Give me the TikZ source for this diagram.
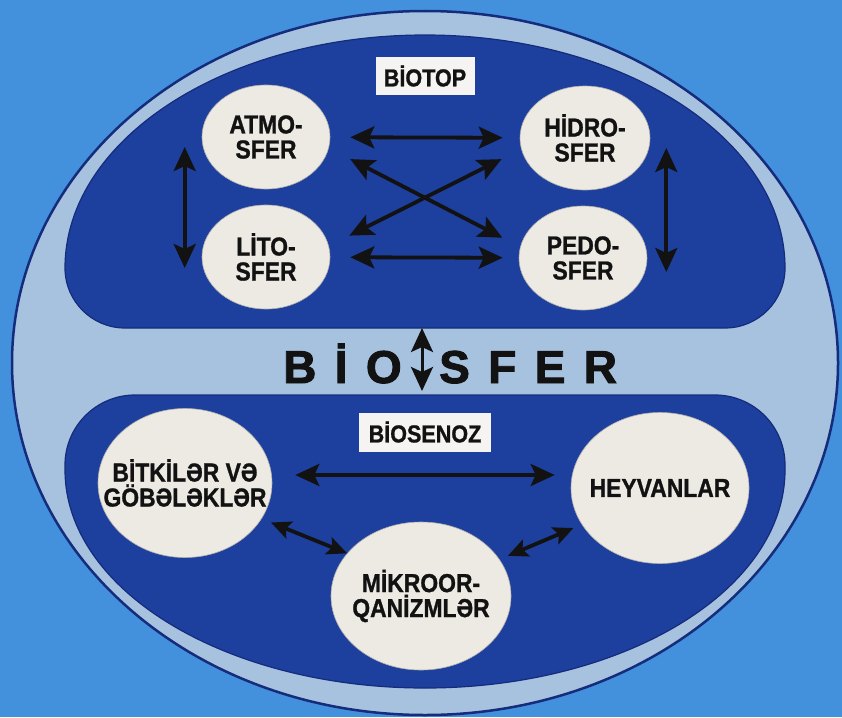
\documentclass[tikz,border=0pt]{standalone}
\usepackage{fontspec}
\setmainfont{Liberation Sans}
\newfontfamily\condfont[FakeStretch=0.88, FakeBold=1]{Liberation Sans}
\usepackage{tikz}
\usetikzlibrary{
  arrows.meta,
  shapes.geometric
}
\definecolor{bsBack}{HTML}{4390DC}
\definecolor{bsRing}{HTML}{A6C2DE}
\definecolor{bsDeep}{HTML}{1D3F9E}
\definecolor{bsEdge}{HTML}{152C7C}
\definecolor{bsOrb}{HTML}{EDEAE4}
\definecolor{bsInk}{HTML}{121212}
\newcommand{\nowide}[1]{\makebox[0pt]{#1}}
\tikzset{
  orb/.style={
    ellipse, fill=bsOrb, draw=bsOrb!75!black, line width=0.6pt, inner sep=0pt,
    minimum width=128pt, minimum height=104pt, align=center, text=bsInk,
    font=\condfont\fontsize{26}{25}\selectfont\bfseries
  },
  tagbox/.style={fill=bsOrb!50!white, inner sep=0pt, text=bsInk, font=\condfont\fontsize{24.5}{25}\selectfont\bfseries},
  region/.style={fill=bsDeep, draw=bsEdge, line width=1.2pt},
  twoway/.style={{Stealth[length=24pt,width=22pt,inset=5pt]}-{Stealth[length=24pt,width=22pt,inset=5pt]}, line width=3.8pt, bsInk},
  shortway/.style={{Stealth[length=20pt,width=18pt,inset=4pt]}-{Stealth[length=20pt,width=18pt,inset=4pt]}, line width=3.8pt, bsInk},
  bigword/.style={inner sep=0pt, anchor=base west, text=bsInk,
    font=\fontsize{46}{50}\selectfont\bfseries\addfontfeatures{LetterSpace=40, FakeBold=2}}
}
\begin{document}
\begin{tikzpicture}[x=1pt, y=-1pt]
  \fill[bsBack] (0,0) rectangle (842,717);
  \useasboundingbox (0,0) rectangle (842,717);
  \draw[fill=bsRing, draw=bsEdge, line width=2.5pt] (425,363) ellipse [x radius=413, y radius=352];
  \draw[region] (65,268) arc[start angle=180, end angle=360, x radius=360, y radius=233]
    arc[start angle=0, end angle=90, radius=60] -- (125,328)
    arc[start angle=90, end angle=180, radius=60] -- cycle;
  \draw[region] (65,470) -- (65,465) arc[start angle=180, end angle=270, radius=70] -- (715,395)
    arc[start angle=270, end angle=360, radius=70] -- (785,470)
    arc[start angle=0, end angle=180, x radius=360, y radius=218] -- cycle;
  \coordinate (biotopbase) at (422,328);
  \coordinate (biosenozbase) at (422,391);

  \node[tagbox, minimum width=99pt, minimum height=38pt] (biotop) at (425,76) {BİOTOP};
  \node[orb] (atmo) at (266,137) {ATMO-\\SFER};
  \node[orb, minimum width=130pt] (hidro) at (585,138) {HİDRO-\\SFER};
  \node[orb] (lito) at (266,257) {LİTO-\\SFER};
  \node[orb] (pedo) at (583,258) {PEDO-\\SFER};

  \draw[twoway, shorten <=20pt, shorten >=17pt] (atmo) -- (hidro);
  \draw[twoway, shorten <=20pt, shorten >=16pt] (lito) -- (pedo);
  \draw[twoway, shorten <=24pt, shorten >=20pt] (atmo.-10) -- (pedo.170);
  \draw[twoway, shorten <=23pt, shorten >=22pt] (lito.10) -- (hidro.-170);
  \draw[twoway] ([shift={(-17,10)}]atmo.west) -- ([shift={(-17,11)}]lito.west);
  \draw[twoway] ([shift={(16,10)}]hidro.east) -- ([shift={(19,14)}]pedo.east);

  \node[bigword] (bio) at (283,383) {BİO};
  \node[bigword] (sfer) at (439,383) {SFER};
  \draw[twoway, line width=3pt] (biotopbase) -- (biosenozbase);

  \node[tagbox, minimum width=132pt, minimum height=39pt] (biosenoz) at (425,432) {BİOSENOZ};
  \node[orb, minimum width=174pt, minimum height=149pt] (bitki) at (185,483) {\nowide{BİTKİLƏR VƏ}\\\nowide{GÖBƏLƏKLƏR}};
  \node[orb, minimum width=178pt, minimum height=151pt] (heyvan) at (660,488) {\nowide{HEYVANLAR}};
  \node[orb, minimum width=180pt, minimum height=148pt] (mikro) at (421,596) {\nowide{MİKROOR-}\\\nowide{QANİZMLƏR}};

  \draw[twoway, shorten <=23pt, shorten >=16pt] ([yshift=8pt]bitki.east) -- ([yshift=13pt]heyvan.west);
  \draw[shortway, shorten <=10pt] (bitki.-25) -- (mikro.150);
  \draw[shortway, shorten <=9pt, shorten >=9pt] (mikro.25) -- (heyvan.-155);
\end{tikzpicture}
\end{document}
